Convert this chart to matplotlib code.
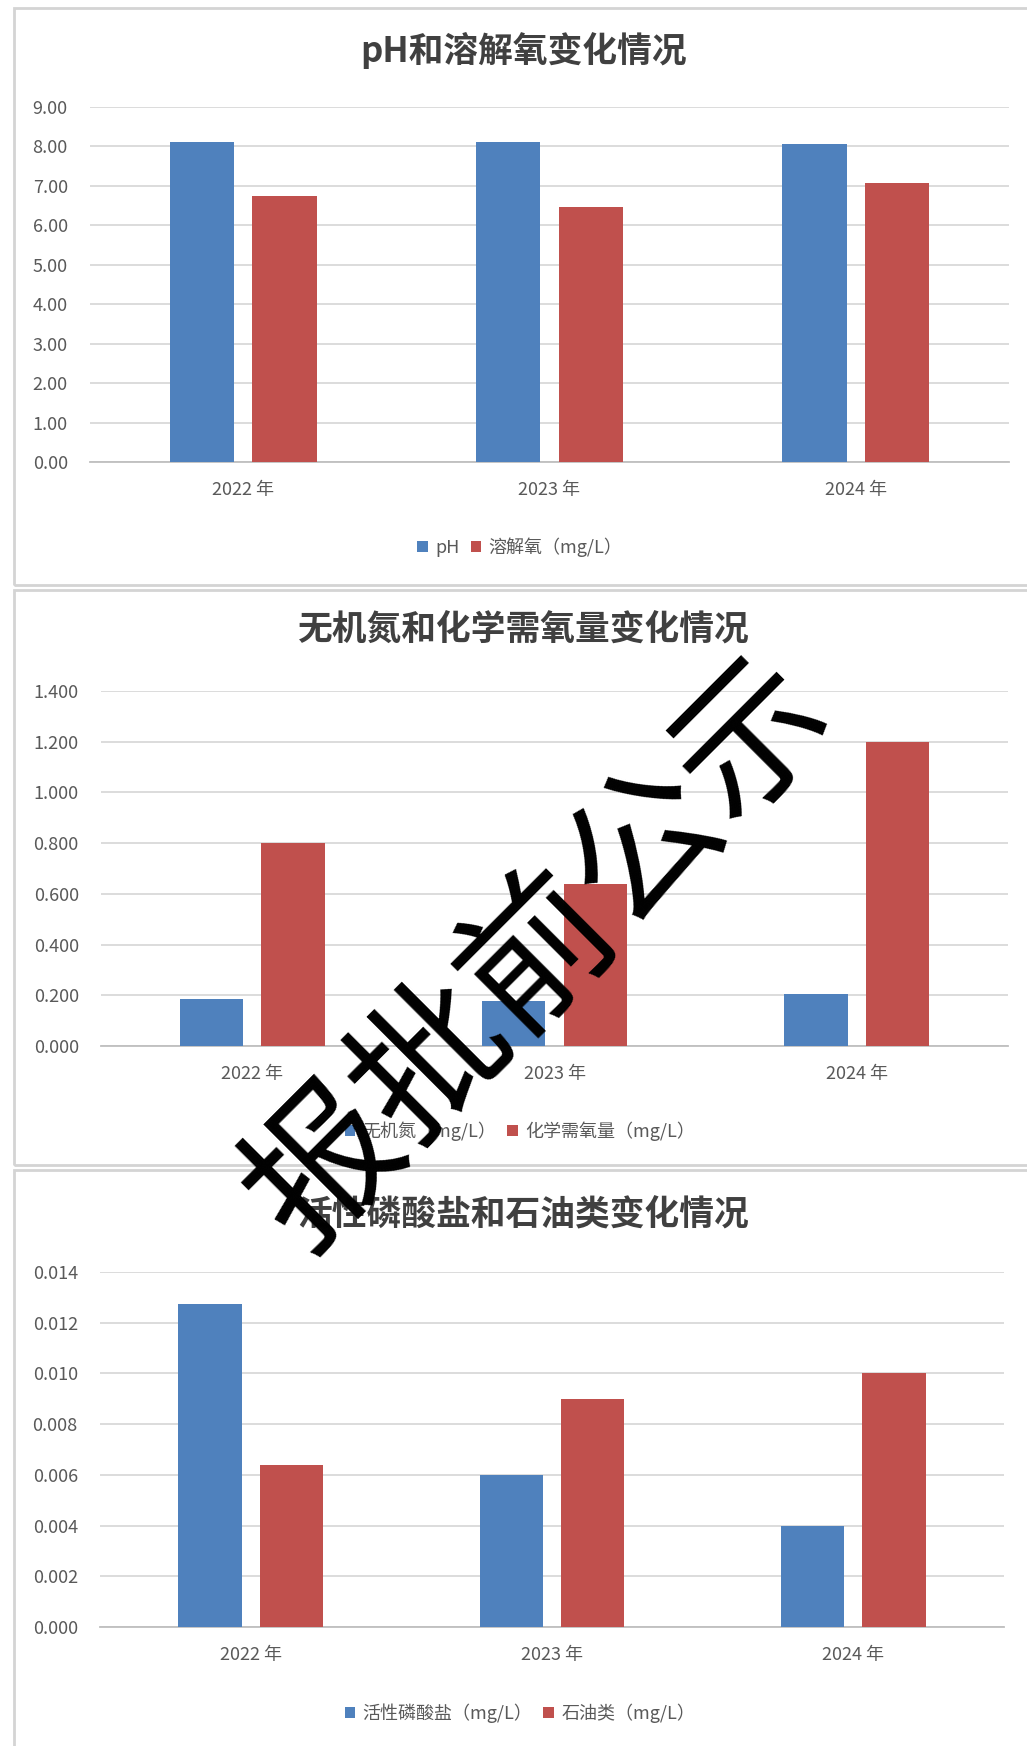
import matplotlib
matplotlib.use("Agg")
import matplotlib.pyplot as plt
from matplotlib.patches import Rectangle
from matplotlib.ticker import FormatStrFormatter
import numpy as np

plt.rcParams['font.family'] = ['Noto Sans CJK SC', 'DejaVu Sans']

# 数据
years = ["2022 年", "2023 年", "2024 年"]

ph = [8.11, 8.11, 8.06]
do = [6.74, 6.46, 7.07]

din = [0.185, 0.178, 0.205]
cod = [0.80, 0.64, 1.20]

phosphate = [0.01275, 0.0060, 0.0040]
oil = [0.0064, 0.0090, 0.0100]

BLUE = "#4F81BD"
RED = "#C0504D"
GRID = "#D9D9D9"
TXT = "#595959"

W, H = 1027, 1746
fig = plt.figure(figsize=(W / 100, H / 100), dpi=100)


def fx(px):
    return px / W


def fy(py):
    return 1 - py / H


# 面板边框
for top, bottom in [(8, 585), (590, 1165), (1170, 1760)]:
    fig.add_artist(Rectangle((fx(14), fy(bottom)), fx(1040) - fx(14), fy(top) - fy(bottom),
                             transform=fig.transFigure, fill=False,
                             edgecolor="#D4D4D4", linewidth=2.0))


def draw_panel(box, title, title_y, s1, s2, labels, ymax, step, fmt, legend_y):
    x0, y0, x1, y1 = box
    ax = fig.add_axes([fx(x0), fy(y1), fx(x1) - fx(x0), fy(y0) - fy(y1)])
    x = np.arange(len(years))
    w = 0.21
    off = 0.135
    ax.bar(x - off, s1, w, color=BLUE, label=labels[0], zorder=3)
    ax.bar(x + off, s2, w, color=RED, label=labels[1], zorder=3)
    ax.set_xlim(-0.5, len(years) - 0.5)
    ax.set_ylim(0, ymax)
    ax.set_yticks(np.arange(0, ymax + step / 2, step))
    ax.yaxis.set_major_formatter(FormatStrFormatter(fmt))
    ax.grid(axis="y", color=GRID, linewidth=1.3, zorder=0)
    for s in ["top", "right", "left"]:
        ax.spines[s].set_visible(False)
    ax.spines["bottom"].set_color("#BFBFBF")
    ax.spines["bottom"].set_linewidth(1.3)
    ax.set_xticks(x)
    ax.set_xticklabels(years)
    ax.tick_params(length=0, colors=TXT, labelsize=13)
    ax.tick_params(axis="y", pad=16)
    ax.tick_params(axis="x", pad=14)
    fig.text(fx(524), fy(title_y), title, ha="center", va="center",
             fontsize=25, fontweight="bold", color="#404040")
    fig.legend(handles=ax.patches[:1] + ax.patches[3:4], labels=labels,
               loc="center", bbox_to_anchor=(fx(520), fy(legend_y)),
               ncol=2, frameon=False, fontsize=13, labelcolor=TXT,
               handlelength=0.6, handleheight=0.6, handletextpad=0.4,
               columnspacing=0.6)
    return ax


draw_panel((90, 107, 1009, 462), "pH和溶解氧变化情况", 50, ph, do,
           ["pH", "溶解氧（mg/L）"], 9, 1, "%.2f", 547)
draw_panel((101, 691, 1008, 1046), "无机氮和化学需氧量变化情况", 630, din, cod,
           ["无机氮（mg/L）", "化学需氧量（mg/L）"], 1.4, 0.2, "%.3f", 1131)
draw_panel((100, 1272, 1004, 1627), "活性磷酸盐和石油类变化情况", 1215, phosphate, oil,
           ["活性磷酸盐（mg/L）", "石油类（mg/L）"], 0.014, 0.002, "%.3f", 1713)

# 水印
fig.text(fx(541), fy(955), "报批前公示", ha="center", va="center",
         rotation=45, rotation_mode="anchor", fontsize=109, color="black",
         zorder=10)

fig.savefig("out.png", dpi=100, facecolor="white")
